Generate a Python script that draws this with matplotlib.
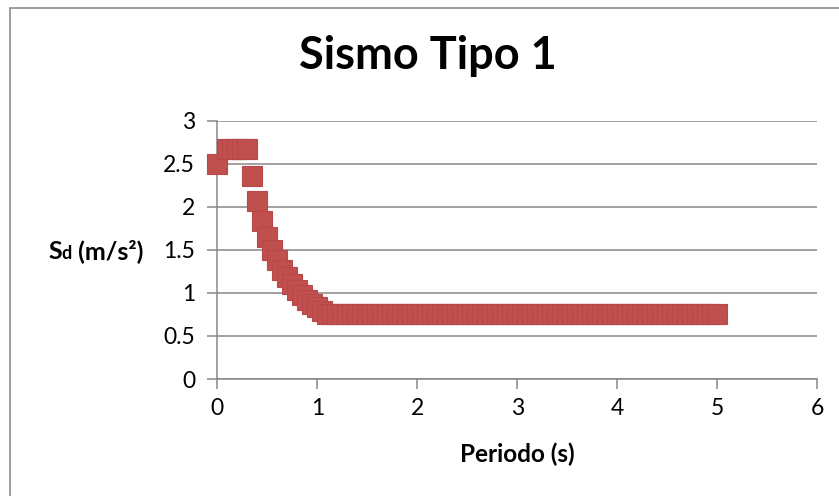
import matplotlib
matplotlib.use("Agg")
import matplotlib.pyplot as plt
from matplotlib.patches import Rectangle

# Design spectrum, seismic type 1
periods = [
    0.00, 0.10, 0.15, 0.20, 0.25, 0.30, 0.35, 0.40, 0.45, 0.50,
    0.55, 0.60, 0.65, 0.70, 0.75, 0.80, 0.85, 0.90, 0.95, 1.00,
    1.05, 1.10, 1.15, 1.20, 1.25, 1.30, 1.35, 1.40, 1.45, 1.50,
    1.55, 1.60, 1.65, 1.70, 1.75, 1.80, 1.85, 1.90, 1.95, 2.00,
    2.05, 2.10, 2.15, 2.20, 2.25, 2.30, 2.35, 2.40, 2.45, 2.50,
    2.55, 2.60, 2.65, 2.70, 2.75, 2.80, 2.85, 2.90, 2.95, 3.00,
    3.05, 3.10, 3.15, 3.20, 3.25, 3.30, 3.35, 3.40, 3.45, 3.50,
    3.55, 3.60, 3.65, 3.70, 3.75, 3.80, 3.85, 3.90, 3.95, 4.00,
    4.05, 4.10, 4.15, 4.20, 4.25, 4.30, 4.35, 4.40, 4.45, 4.50,
    4.55, 4.60, 4.65, 4.70, 4.75, 4.80, 4.85, 4.90, 4.95, 5.00,
]
sd_values = [
    2.50, 2.67, 2.67, 2.67, 2.67, 2.67, 2.36, 2.06, 1.83, 1.65,
    1.50, 1.38, 1.27, 1.18, 1.10, 1.03, 0.97, 0.92, 0.87, 0.83,
    0.79, 0.75, 0.75, 0.75, 0.75, 0.75, 0.75, 0.75, 0.75, 0.75,
    0.75, 0.75, 0.75, 0.75, 0.75, 0.75, 0.75, 0.75, 0.75, 0.75,
    0.75, 0.75, 0.75, 0.75, 0.75, 0.75, 0.75, 0.75, 0.75, 0.75,
    0.75, 0.75, 0.75, 0.75, 0.75, 0.75, 0.75, 0.75, 0.75, 0.75,
    0.75, 0.75, 0.75, 0.75, 0.75, 0.75, 0.75, 0.75, 0.75, 0.75,
    0.75, 0.75, 0.75, 0.75, 0.75, 0.75, 0.75, 0.75, 0.75, 0.75,
    0.75, 0.75, 0.75, 0.75, 0.75, 0.75, 0.75, 0.75, 0.75, 0.75,
    0.75, 0.75, 0.75, 0.75, 0.75, 0.75, 0.75, 0.75, 0.75, 0.75,
]
x_ticks = [0, 1, 2, 3, 4, 5, 6]
y_ticks = [0, 0.5, 1, 1.5, 2, 2.5, 3]
y_tick_labels = ["0", "0.5", "1", "1.5", "2", "2.5", "3"]

title = "Sismo Tipo 1"
x_label = "Periodo (s)"

W, H = 839, 496
plt.rcParams["font.family"] = ["Lato", "DejaVu Sans"]

fig = plt.figure(figsize=(W / 100, H / 100), dpi=100)
fig.patch.set_facecolor("white")

# chart frame
fig.patches.append(Rectangle((10 / W, -0.1), 1.2, 1 - 8 / H + 0.1,
                             transform=fig.transFigure, fill=False,
                             edgecolor="#8c8c8c", linewidth=1.2))

ax = fig.add_axes([217.3 / W, 1 - 379 / H, 600 / W, (379 - 120.5) / H])
grid_c = "#878787"
ax.set_xlim(0, 6)
ax.set_ylim(0, 3)
ax.set_xticks(x_ticks)
ax.set_yticks(y_ticks)
ax.set_yticklabels(y_tick_labels)
ax.yaxis.grid(True, color=grid_c, linewidth=1.1)
ax.set_axisbelow(True)
for s in ("top", "right"):
    ax.spines[s].set_visible(False)
for s in ("left", "bottom"):
    ax.spines[s].set_color(grid_c)
    ax.spines[s].set_linewidth(1.1)
ax.tick_params(axis="both", colors=grid_c, width=1.1, length=7,
               labelsize=16.5, labelcolor="black")
ax.tick_params(axis="y", pad=9)
ax.tick_params(axis="x", pad=7)

ax.plot(periods, sd_values, linestyle="none", marker="s", markersize=14.2,
        markerfacecolor="#C0504D", markeredgecolor="#B9474A",
        markeredgewidth=0.8, clip_on=False, zorder=5)

fig.text(428 / W, 1 - 56 / H, title, ha="center", va="center",
         fontsize=32.5, fontweight="bold")
fig.text(517 / W, 1 - 454 / H, x_label, ha="center", va="center",
         fontsize=17.5, fontweight="bold")

# y-axis label with a smaller "d"
fig.canvas.draw()
r = fig.canvas.get_renderer()
base_y = 1 - 259 / H
x0 = 48 / W
pieces = [("S", 18), ("d", 13), (" (m/s²)", 18)]
for txt, size in pieces:
    t = fig.text(x0, base_y, txt, ha="left", va="baseline",
                 fontsize=size, fontweight="bold")
    bb = t.get_window_extent(renderer=r)
    x0 += bb.width / W

fig.savefig("out.png", dpi=100)
